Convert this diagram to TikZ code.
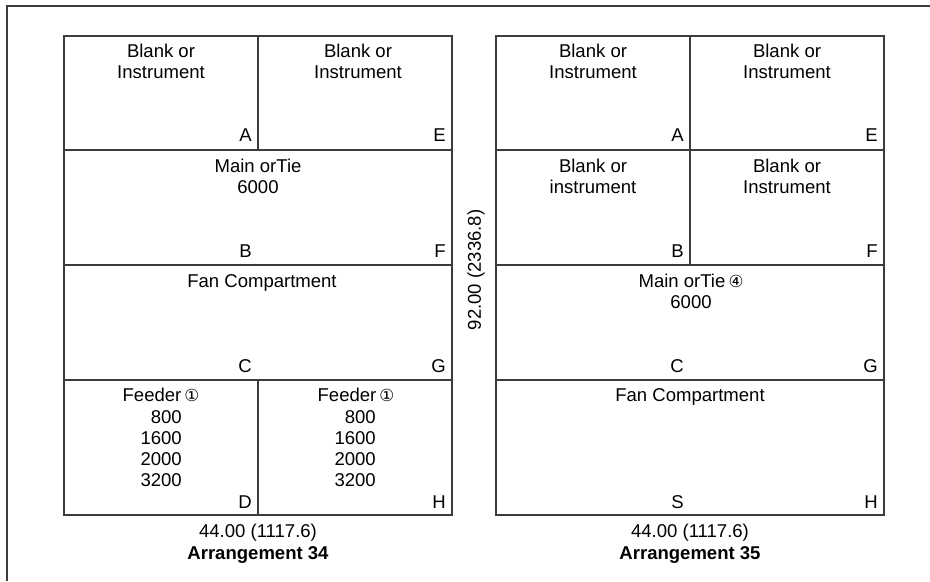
\documentclass[tikz,border=0pt]{standalone}
\usepackage{fontspec}
\setmainfont{Liberation Sans}
\newfontfamily\symfont{DejaVu Sans}
\newcommand\cnum[1]{{\symfont\fontsize{12.5}{14}\selectfont #1}}
\newcommand\fsz{\fontsize{13.9}{16}\selectfont}
\definecolor{linec}{HTML}{3C3C3C}
\tikzset{
  frame/.style={draw=linec, line width=1.4pt},
  boxline/.style={draw=linec, line width=1.4pt},
  txt/.style={anchor=base, inner sep=0pt, font=\fsz},
  lab/.style={anchor=base east, inner sep=0pt, font=\fsz},
  num/.style={anchor=base east, inner sep=0pt, font=\fsz},
  bold/.style={anchor=base, inner sep=0pt, font=\fsz\bfseries},
}
\begin{document}
\begin{tikzpicture}[x=0.75pt,y=-0.75pt]
\useasboundingbox (0,0) rectangle (930,581);
\draw[frame] (7,581) -- (7,6) -- (930,6);

% ---------- Arrangement 34 ----------
\draw[boxline] (64,36) rectangle (452,515);
\draw[boxline] (64,150) -- (452,150);
\draw[boxline] (64,265) -- (452,265);
\draw[boxline] (64,380) -- (452,380);
\draw[boxline] (258,36) -- (258,150);
\draw[boxline] (258,380) -- (258,515);

\node[txt] (la1) at (161,58) {Blank or};
\node[txt] (la2) at (161,79) {Instrument};
\node[lab] (lA) at (252,142) {A};
\node[txt] (le1) at (358,58) {Blank or};
\node[txt] (le2) at (358,79) {Instrument};
\node[lab] (lE) at (446,142) {E};

\node[txt] (lb1) at (258,172) {Main orTie};
\node[txt] (lb2) at (258,193) {6000};
\node[lab] (lB) at (252,257) {B};
\node[lab] (lF) at (446,257) {F};

\node[txt] (lc1) at (262,287) {Fan Compartment};
\node[lab] (lC) at (252,372) {C};
\node[lab] (lG) at (446,372) {G};

\node[txt] (ld1) at (161,401) {Feeder\,\cnum{①}};
\node[num] (ld2) at (182,423) {800};
\node[num] (ld3) at (182,444) {1600};
\node[num] (ld4) at (182,465) {2000};
\node[num] (ld5) at (182,486) {3200};
\node[lab] (lD) at (252,508) {D};
\node[txt] (lh1) at (356,401) {Feeder\,\cnum{①}};
\node[num] (lh2) at (376,423) {800};
\node[num] (lh3) at (376,444) {1600};
\node[num] (lh4) at (376,465) {2000};
\node[num] (lh5) at (376,486) {3200};
\node[lab] (lH) at (446,508) {H};

\node[txt] (ldim) at (258,537) {44.00 (1117.6)};
\node[bold] (lttl) at (258,559) {Arrangement 34};

% ---------- height dimension ----------
\node[font=\fsz, inner sep=0pt, rotate=90] (hdim) at (476,270) {92.00 (2336.8)};

% ---------- Arrangement 35 ----------
\draw[boxline] (496,36) rectangle (884,515);
\draw[boxline] (496,150) -- (884,150);
\draw[boxline] (496,265) -- (884,265);
\draw[boxline] (496,380) -- (884,380);
\draw[boxline] (690,36) -- (690,265);

\node[txt] (ra1) at (593,58) {Blank or};
\node[txt] (ra2) at (593,79) {Instrument};
\node[lab] (rA) at (684,142) {A};
\node[txt] (re1) at (787,58) {Blank or};
\node[txt] (re2) at (787,79) {Instrument};
\node[lab] (rE) at (878,142) {E};

\node[txt] (rb1) at (593,172) {Blank or};
\node[txt] (rb2) at (593,193) {instrument};
\node[lab] (rB) at (684,257) {B};
\node[txt] (rf1) at (787,172) {Blank or};
\node[txt] (rf2) at (787,193) {Instrument};
\node[lab] (rF) at (878,257) {F};

\node[txt] (rc1) at (691,287) {Main orTie\,\cnum{④}};
\node[txt] (rc2) at (691,308) {6000};
\node[lab] (rC) at (684,372) {C};
\node[lab] (rG) at (878,372) {G};

\node[txt] (rs1) at (690,401) {Fan Compartment};
\node[lab] (rS) at (684,508) {S};
\node[lab] (rH) at (878,508) {H};

\node[txt] (rdim) at (690,537) {44.00 (1117.6)};
\node[bold] (rttl) at (690,559) {Arrangement 35};
\end{tikzpicture}
\end{document}
